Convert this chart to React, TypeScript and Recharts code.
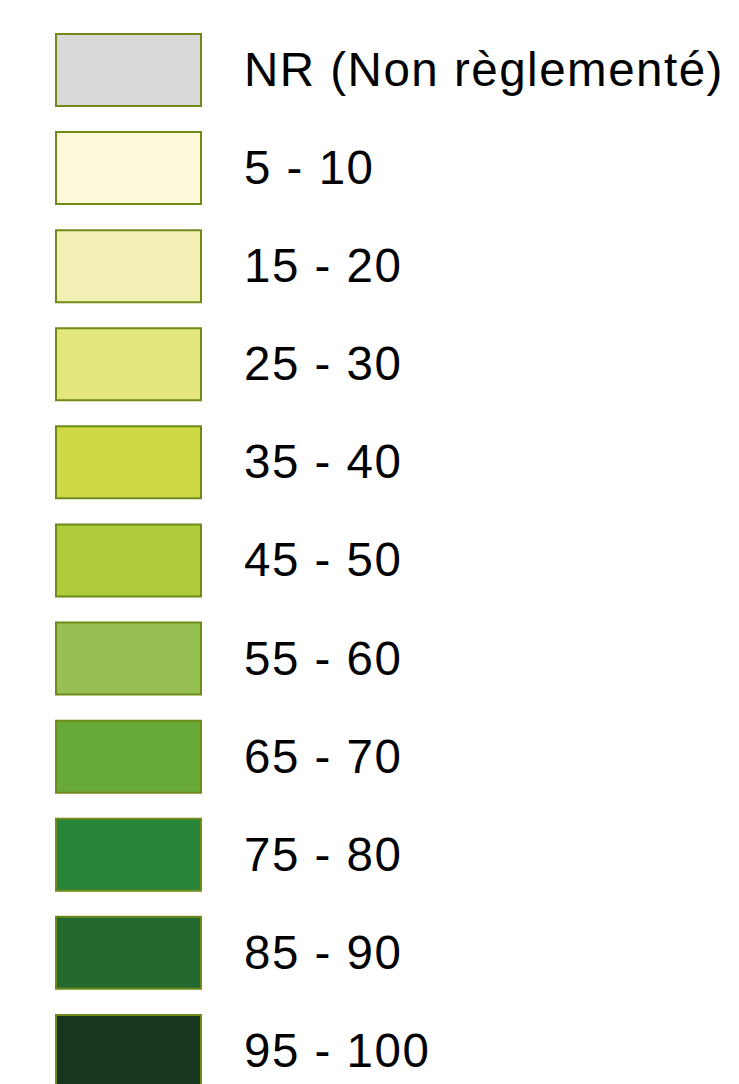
import React from "react";
import { BarChart, Bar, XAxis, YAxis, Cell, LabelList } from "recharts";

const classes = [
  "NR (Non règlementé)",
  "5 - 10",
  "15 - 20",
  "25 - 30",
  "35 - 40",
  "45 - 50",
  "55 - 60",
  "65 - 70",
  "75 - 80",
  "85 - 90",
  "95 - 100",
];

const colors = [
  "#d9d9d9",
  "#fff9dc",
  "#f3f0b6",
  "#e4e680",
  "#cfd946",
  "#b0cb3b",
  "#96c152",
  "#67aa3a",
  "#27853a",
  "#246930",
  "#18351e",
];

const swatchValue = [1, 1, 1, 1, 1, 1, 1, 1, 1, 1, 1];

const data = classes.map((label, i) => ({ label, value: swatchValue[i], color: colors[i] }));

const renderLabel = (props: any) => {
  const { x, y, width, height, value } = props;
  return (
    <text
      x={x + width + 43}
      y={y + height / 2 + 16}
      fill="#000"
      style={{ fontFamily: "Liberation Sans", fontSize: 47.5, letterSpacing: 1.5 }}
    >
      {value}
    </text>
  );
};

export default function App() {
  return (
    <div
      style={{
        position: "absolute",
        left: 0,
        top: 0,
        width: 739,
        height: 1084,
        overflow: "hidden",
        background: "#fff",
      }}
    >
      <BarChart
        width={739}
        height={1102}
        data={data}
        layout="vertical"
        margin={{ top: 21, right: 538, bottom: 2, left: 56 }}
      >
        <XAxis type="number" domain={[0, 1]} hide />
        <YAxis type="category" dataKey="label" hide />
        <Bar
          dataKey="value"
          barSize={72}
          stroke="#6f8a18"
          strokeWidth={2}
          isAnimationActive={false}
        >
          {data.map((d, i) => (
            <Cell key={i} fill={d.color} />
          ))}
          <LabelList dataKey="label" content={renderLabel} />
        </Bar>
      </BarChart>
    </div>
  );
}
